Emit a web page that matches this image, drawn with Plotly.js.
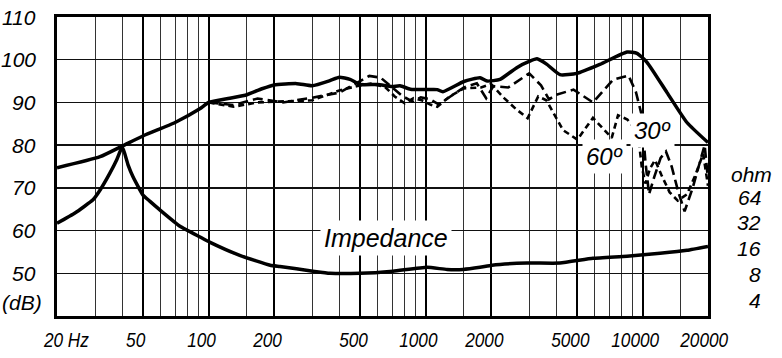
<!DOCTYPE html>
<html>
<head>
<meta charset="utf-8">
<script src="https://cdn.plot.ly/plotly-3.0.1.min.js"></script>
<style>html,body{margin:0;padding:0;background:#fff;}#chart{width:782px;height:358px;}</style>
</head>
<body>
<div id="chart"></div>
<script>
// ---- data ----
const onAxisFreq = [20, 31.6, 40, 50, 70, 91, 100, 125, 150, 176, 200, 255, 300, 362, 400, 448, 500, 600, 700, 762, 850, 1000, 1130, 1200, 1500, 1780, 1920, 2200, 2640, 3000, 3260, 3620, 4160, 4980, 6350, 8470, 9420, 10470, 12950, 16000, 20000];
const onAxisDb   = [74.7, 77.3, 79.8, 82.2, 85.3, 88.5, 90.0, 91.0, 91.8, 93.2, 94.1, 94.4, 93.9, 95.1, 95.9, 95.4, 94.2, 94.2, 93.7, 93.9, 93.1, 93.0, 93.0, 92.5, 94.9, 95.8, 95.0, 95.4, 98.2, 99.6, 100.2, 98.9, 96.5, 96.8, 98.9, 101.8, 101.5, 99.4, 92.3, 85.3, 80.6];

const off30Freq = [100, 130, 168, 220, 300, 400, 480, 550, 620, 700, 780, 870, 950, 1050, 1150, 1300, 1500, 1720, 1900, 2050, 2400, 3000, 3400, 3700, 4000, 4800, 5900, 7300, 8600, 9300, 9900, 10300, 10700, 11300, 12100, 12800, 13600, 14600, 15600, 17000, 18500, 19300, 20000];
const off30Db   = [90.0, 89.4, 90.9, 90.0, 91.1, 92.3, 94.5, 96.2, 95.8, 93.5, 91.5, 90.2, 91.2, 90.7, 89.5, 91.4, 93.5, 94.5, 91.0, 93.8, 93.5, 96.8, 94.0, 90.7, 91.8, 93.0, 90.0, 95.3, 96.3, 92.5, 87.0, 76.0, 68.5, 72.5, 77.0, 78.5, 75.0, 69.0, 64.5, 70.0, 76.5, 80.0, 72.0];

const off60Freq = [100, 130, 168, 220, 300, 400, 480, 560, 650, 720, 800, 880, 960, 1050, 1130, 1300, 1500, 1800, 2000, 2300, 2600, 2950, 3300, 3600, 4300, 5000, 5900, 7200, 7700, 8500, 9500, 9900, 10300, 10800, 11400, 12200, 13300, 14500, 16000, 17500, 19000, 20000];
const off60Db   = [90.0, 89.0, 90.0, 90.3, 90.5, 92.8, 93.8, 94.4, 93.6, 91.4, 89.8, 91.0, 90.5, 89.5, 89.0, 91.5, 93.3, 93.5, 94.3, 91.0, 88.5, 86.3, 91.4, 90.5, 83.5, 81.3, 86.4, 81.7, 87.0, 86.0, 83.0, 75.0, 71.0, 74.5, 76.5, 73.0, 69.0, 67.0, 68.5, 73.0, 78.0, 70.5];

const impFreq = [20, 24.2, 29.3, 31.6, 35.1, 37.7, 40, 42.5, 44.8, 49.8, 53.5, 59.7, 73.8, 91.2, 101, 139, 192, 213, 302, 362, 498, 707, 1014, 1254, 1486, 1780, 2022, 2930, 4157, 5900, 8466, 12020, 16000, 20000];
const impDb   = [61.7, 64.1, 67.2, 69.5, 73.5, 76.6, 79.6, 75.4, 72.6, 68.3, 66.9, 64.8, 61.0, 58.5, 57.3, 54.2, 51.9, 51.6, 50.5, 50.0, 50.0, 50.5, 51.4, 50.9, 50.9, 51.4, 51.9, 52.4, 52.4, 53.5, 54.0, 54.7, 55.4, 56.3];

const xMajor = [50, 100, 200, 500, 1000, 2000, 5000, 10000];
const xMinor = [30, 40, 60, 70, 80, 90, 150, 300, 400, 600, 700, 800, 900, 1500, 3000, 4000, 6000, 7000, 8000, 9000, 15000];
const xTickVals = [20, 50, 100, 200, 500, 1000, 2000, 5000, 10000, 20000];
const xTickText = ['20 Hz', '50', '100', '200', '500', '1000', '2000', '5000', '10000', '20000'];
const yTickVals = [110, 100, 90, 80, 70, 60, 50];
const ohmTicks = [64, 32, 16, 8, 4];

// ---- layout helpers ----
const PLOT_TOP = 17, PLOT_H = 299;
const narrowFont = {family: '"Liberation Sans", Arial, sans-serif', size: 21, color: '#000', style: 'italic'};
const labFont = {family: '"Liberation Sans", Arial, sans-serif', size: 21, color: '#000', style: 'italic'};
const bigFont = {family: '"Liberation Sans", Arial, sans-serif', size: 24, color: '#000', style: 'italic'};

const annotations = [];
xTickVals.forEach((v, i) => {
  annotations.push({
    x: Math.log10(v), xref: 'x', y: -23 / PLOT_H, yref: 'paper',
    text: xTickText[i], showarrow: false, font: narrowFont,
    xanchor: 'center', yanchor: 'middle', xshift: i === 0 ? 9 : (i === xTickVals.length - 1 ? -4 : -7)
  });
});
const N_XLAB = annotations.length;
yTickVals.forEach(v => {
  annotations.push({
    x: 0, xref: 'paper', y: v, yref: 'y', text: String(v), showarrow: false,
    font: labFont, xanchor: 'right', yanchor: 'middle', xshift: -19
  });
});
annotations.push({x: 0, xref: 'paper', y: 43.2, yref: 'y', text: '(dB)', showarrow: false,
  font: labFont, xanchor: 'right', yanchor: 'middle', xshift: -13});
// ohm scale: log2 spacing, 4 ohm at pixel 300, 25.75 px per octave
ohmTicks.forEach(v => {
  const py = 300 - 25.75 * Math.log2(v / 4);
  annotations.push({x: 1, xref: 'paper', y: (PLOT_TOP + PLOT_H - py) / PLOT_H, yref: 'paper',
    text: String(v), showarrow: false, font: labFont, xanchor: 'right', yanchor: 'middle', xshift: 55});
});
annotations.push({x: 1, xref: 'paper', y: (PLOT_TOP + PLOT_H - 174) / PLOT_H, yref: 'paper',
  text: 'ohm', showarrow: false, font: labFont, xanchor: 'right', yanchor: 'middle', xshift: 66});
annotations.push({x: Math.log10(656), xref: 'x', y: 58.2, yref: 'y', text: 'Impedance', showarrow: false,
  font: {family: '"Liberation Sans", Arial, sans-serif', size: 25, color: '#000', style: 'italic'},
  bgcolor: '#fff', borderpad: 3, xanchor: 'center', yanchor: 'middle'});
annotations.push({x: Math.log10(11100), xref: 'x', y: 83.4, yref: 'y', text: '30º', showarrow: false,
  font: bigFont, bgcolor: '#fff', borderpad: 3, xanchor: 'center', yanchor: 'middle'});
annotations.push({x: Math.log10(6700), xref: 'x', y: 77.3, yref: 'y', text: '60º', showarrow: false,
  font: bigFont, bgcolor: '#fff', borderpad: 3, xanchor: 'center', yanchor: 'middle'});

const traces = [
  {x: off30Freq, y: off30Db, mode: 'lines', line: {color: '#000', width: 2.6, dash: '10px,5px'}},
  {x: off60Freq, y: off60Db, mode: 'lines', line: {color: '#000', width: 2.6, dash: '6px,4px'}},
  {x: onAxisFreq, y: onAxisDb, mode: 'lines', line: {color: '#000', width: 3.5, shape: 'spline', smoothing: 0.5}},
  {x: impFreq, y: impDb, mode: 'lines', line: {color: '#000', width: 3.5, shape: 'spline', smoothing: 0.4}}
];

const layout = {
  width: 782, height: 358,
  margin: {l: 57, r: 74, t: PLOT_TOP, b: 42, pad: 0},
  paper_bgcolor: '#fff', plot_bgcolor: '#fff',
  showlegend: false,
  xaxis: {
    type: 'log', range: [Math.log10(20), Math.log10(20000)],
    tickmode: 'array', tickvals: xMajor, showticklabels: false, ticks: '',
    showgrid: true, gridcolor: '#000', gridwidth: 2,
    minor: {tickmode: 'array', tickvals: xMinor, showgrid: true, gridcolor: '#333', gridwidth: 1, ticks: ''},
    showline: true, linecolor: '#000', linewidth: 3, mirror: true, zeroline: false, fixedrange: true
  },
  yaxis: {
    range: [40, 110], tickmode: 'array', tickvals: [50, 60, 70, 80, 90, 100],
    showticklabels: false, ticks: '',
    showgrid: true, gridcolor: '#111', gridwidth: 1.3,
    showline: true, linecolor: '#000', linewidth: 3, mirror: true, zeroline: false, fixedrange: true
  },
  annotations: annotations
};

Plotly.newPlot('chart', traces, layout, {staticPlot: true, displayModeBar: false}).then(gd => {
  // condense the x-axis labels horizontally (the reference uses a narrow italic face)
  for (let i = 0; i < N_XLAB; i++) {
    const t = gd.querySelector('.annotation[data-index="' + i + '"] text');
    if (!t) continue;
    const len = t.getComputedTextLength();
    t.setAttribute('textLength', (len * 0.82).toFixed(1));
    t.setAttribute('lengthAdjust', 'spacingAndGlyphs');
  }
});
</script>
</body>
</html>
